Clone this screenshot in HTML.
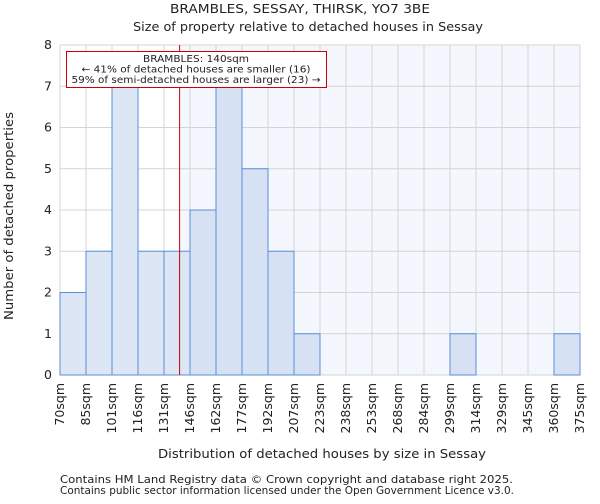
<!DOCTYPE html>
<html><head><meta charset="utf-8"><style>
body{margin:0;background:#fff;font-family:"DejaVu Sans","Liberation Sans",sans-serif}
svg text{font-family:"DejaVu Sans","Liberation Sans",sans-serif;fill:#222}
</style></head><body>
<svg id="c" width="600" height="500" xmlns="http://www.w3.org/2000/svg">
<text x="300" y="13" font-size="12.5" text-anchor="middle" textLength="260" lengthAdjust="spacingAndGlyphs">BRAMBLES, SESSAY, THIRSK, YO7 3BE</text>
<text x="308" y="31" font-size="12.5" text-anchor="middle" textLength="350" lengthAdjust="spacingAndGlyphs">Size of property relative to detached houses in Sessay</text>
<text x="322" y="458" font-size="12.5" text-anchor="middle" textLength="328" lengthAdjust="spacingAndGlyphs">Distribution of detached houses by size in Sessay</text>
<text transform="translate(13,216) rotate(-90)" font-size="12.5" text-anchor="middle" textLength="208" lengthAdjust="spacingAndGlyphs">Number of detached properties</text>
<text x="60" y="483" font-size="10.3" textLength="453" lengthAdjust="spacingAndGlyphs">Contains HM Land Registry data © Crown copyright and database right 2025.</text>
<text x="60" y="494" font-size="10.3" textLength="454" lengthAdjust="spacingAndGlyphs">Contains public sector information licensed under the Open Government Licence v3.0.</text>
<g id="plot"></g>
</svg>
<script>
const binLabels=["70sqm","85sqm","101sqm","116sqm","131sqm","146sqm","162sqm","177sqm","192sqm","207sqm","223sqm","238sqm","253sqm","268sqm","284sqm","299sqm","314sqm","329sqm","345sqm","360sqm","375sqm"];
const binEdges=[70,85,101,116,131,146,162,177,192,207,223,238,253,268,284,299,314,329,345,360,375];
const counts=[2,3,7,3,3,4,7,5,3,1,0,0,0,0,0,1,0,0,0,1];
const yTicks=[0,1,2,3,4,5,6,7,8];
const subjectSize=140;
const NS="http://www.w3.org/2000/svg";
const L=60,R=580,T=45,B=375,yMax=8;
const nb=counts.length,bw=(R-L)/nb;
const xi=i=>L+i*bw;
const y=v=>B-(v/yMax)*(B-T);
function xv(v){for(let i=0;i<binEdges.length-1;i++){if(v<=binEdges[i+1])return xi(i)+(v-binEdges[i])/(binEdges[i+1]-binEdges[i])*bw;}return R;}
const g=document.getElementById('plot');
function mk(t,a){const e=document.createElementNS(NS,t);for(const k in a)e.setAttribute(k,a[k]);g.appendChild(e);return e;}
const sx=xv(subjectSize);
let e=mk('rect',{x:sx,y:T,width:R-sx,height:B-T,fill:'#f4f7fd'});


yTicks.forEach(t=>{let l=mk('line',{x1:L,x2:R,y1:y(t),y2:y(t),stroke:'#d4d4d4','stroke-width':1});


let tx=mk('text',{x:L-8,y:y(t)+4,'font-size':12.5,'text-anchor':'end'});tx.textContent=t;

});
binLabels.forEach((s,i)=>{let l=mk('line',{x1:xi(i),x2:xi(i),y1:T,y2:B,stroke:'#d4d4d4','stroke-width':1});


let tx=mk('text',{transform:`translate(${xi(i)+4},${B+8}) rotate(-90)`,'font-size':12.5,'text-anchor':'end'});tx.textContent=s;

});
counts.forEach((c,i)=>{if(!c)return;const right=xi(i)>=sx;
let r=mk('rect',{x:xi(i),y:y(c),width:bw,height:B-y(c),fill:right?'#d6e1f4':'#dce6f4',stroke:'#5a8fd6','stroke-width':1});

});
e=mk('line',{x1:sx,x2:sx,y1:T,y2:B,stroke:'#c00','stroke-width':1});


e=mk('rect',{x:66.5,y:51.5,width:260,height:36,fill:'#fff',stroke:'#c00','stroke-width':1});


const annLens=[106,229,249];
["BRAMBLES: 140sqm","← 41% of detached houses are smaller (16)","59% of semi-detached houses are larger (23) →"].forEach((s,i)=>{
let t=mk('text',{x:196,y:62+i*10.5,'font-size':10,'text-anchor':'middle',textLength:annLens[i],lengthAdjust:'spacingAndGlyphs'});t.textContent=s;

});
</script>
</body></html>
